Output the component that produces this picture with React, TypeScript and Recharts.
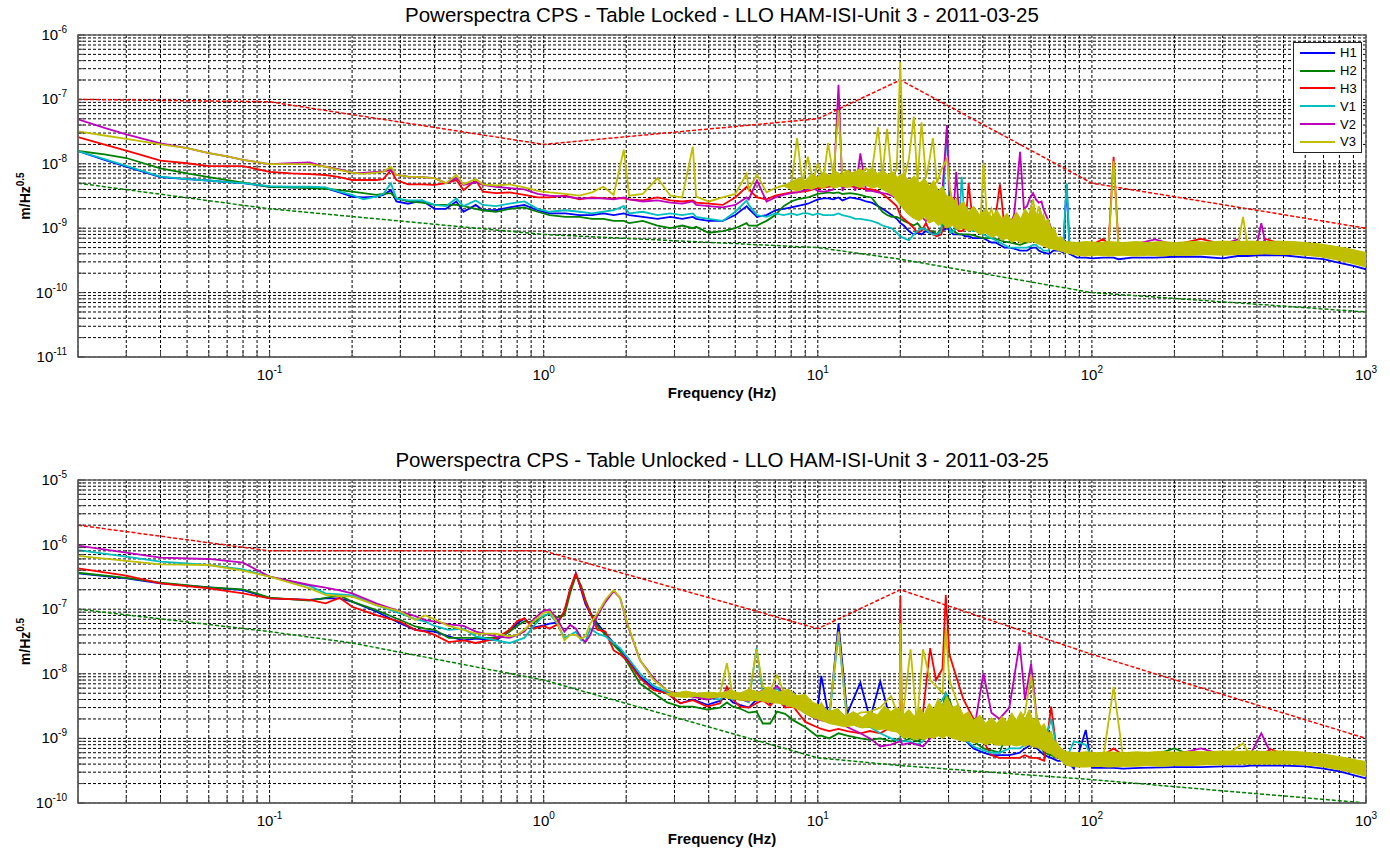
import React from 'react';
import { ComposedChart, Line, Area, XAxis, YAxis, CartesianGrid, Legend, ReferenceArea } from 'recharts';

const FONT = '"Liberation Sans", Arial, Helvetica, sans-serif';
// all spectrum values below are in units of 1e-9 m/Hz^0.5
const NANO = 1e-9;

const SERIES = [
  { key: 'H1', color: '#0000ff' },
  { key: 'H2', color: '#008000' },
  { key: 'H3', color: '#ff0000' },
  { key: 'V1', color: '#00bfbf' },
  { key: 'V2', color: '#bf00bf' },
  { key: 'V3', color: '#bfbf00' },
];

// ---------- Table Locked ----------
const TOP_F = [
  0.02, 0.025, 0.03, 0.04, 0.05, 0.06, 0.07, 0.08, 0.1, 0.12, 0.14, 0.16, 0.18, 0.2, 0.22, 0.245, 0.26, 0.277, 0.29, 0.32,
  0.36, 0.4, 0.44, 0.48, 0.51, 0.565, 0.6, 0.67, 0.75, 0.85, 0.95,
  1.05, 1.2, 1.35, 1.5, 1.65, 1.8, 1.96, 2.05, 2.3, 2.6, 2.9, 3.2, 3.5, 3.6, 4.0, 4.5, 5.0, 5.5, 5.6, 6.0,
  6.5, 7.0, 7.5, 8.0, 8.4, 8.8, 9.2, 9.6, 10, 10.5, 10.9, 11.4, 11.9, 12.3, 13.1, 13.7, 14.3, 15.0, 15.7, 16.6,
  17.2, 17.9, 18.6, 19.4, 20.0, 20.6, 21.5, 22.4, 23.1, 23.9, 24.8, 25.6, 26.3, 27.2, 28.2, 29.6, 30.4, 31.2, 32, 32.8,
  33.5, 34.5, 35.5, 36.8, 38, 39.2, 40.2, 41.5, 43, 44.5, 46.2, 48, 50, 52, 54.7, 56.5, 58, 59.5, 61, 62.5,
  64, 65.5, 66.5, 68, 69.5, 71, 72.3, 74, 76, 78.5, 80.9, 83,
  88, 95, 100, 110, 115, 120, 125, 140, 170, 200, 250, 300, 340, 356, 370, 400, 415, 430, 500, 600, 700, 800, 900, 1000,
];

const TOP_H1 = [
  15.8, 11.5, 9.0, 6.2, 5.8, 5.5, 5.2, 5.0, 4.4, 4.3, 4.3, 4.2, 3.6, 3.1, 3.0, 3.1, 3.3, 3.9, 2.6, 2.4,
  2.7, 2.0, 2.0, 2.6, 1.8, 2.3, 1.9, 1.9, 2.1, 2.3, 1.9,
  1.7, 1.7, 1.6, 1.6, 1.7, 1.6, 1.7, 1.6, 1.5, 1.4, 1.5, 1.4, 1.5, 1.4, 1.3, 1.3, 1.6, 2.2, 2.0, 1.5,
  1.6, 1.9, 2.0, 2.1, 2.2, 2.3, 2.4, 2.6, 2.8, 2.9, 2.9, 2.8, 3.0, 2.7, 3.0, 2.9, 2.8, 2.6, 2.5, 2.2,
  2.0, 1.8, 1.6, 1.4, 1.2, 1.1, 0.9, 0.8, 0.85, 0.8, 0.9, 0.85, 0.85, 0.8, 0.9, 1.0, 0.9, 0.8, 0.8, 0.8,
  0.8, 0.75, 0.75, 0.7, 0.7, 0.7, 0.7, 0.65, 0.6, 0.6, 0.55, 0.5, 0.5, 0.48, 0.45, 0.45, 0.45, 0.48, 0.5, 0.5,
  0.45, 0.43, 0.42, 0.41, 0.4, 0.42, 0.45, 0.45, 0.45, 0.42, 4.8, 0.4,
  0.35, 0.35, 0.34, 0.35, 0.35, 0.35, 0.33, 0.35, 0.35, 0.36, 0.36, 0.34, 0.37, 0.37, 0.37, 0.38, 0.38, 0.38, 0.38, 0.35, 0.33, 0.29, 0.26, 0.23,
];
const TOP_H2 = [
  15.8, 14, 12.3, 8.5, 7.1, 6.2, 5.6, 5.1, 4.4, 4.3, 4.2, 4.1, 3.9, 3.7, 3.5, 3.3, 3.4, 3.5, 2.9, 2.6,
  2.5, 2.3, 2.3, 2.3, 2.2, 2.0, 1.9, 1.8, 2.0, 2.1, 1.8,
  1.6, 1.5, 1.5, 1.4, 1.4, 1.3, 1.3, 1.2, 1.3, 1.1, 1.0, 1.1, 1.0, 1.05, 0.85, 0.9, 1.0, 1.2, 1.1, 1.1,
  1.3, 1.6, 2.2, 2.6, 2.8, 2.9, 3.0, 3.2, 3.4, 3.5, 3.6, 3.5, 3.6, 3.4, 3.5, 3.4, 3.3, 3.1, 3.0, 2.2,
  1.8, 1.6, 1.5, 1.5, 1.4, 1.3, 1.2, 1.1, 1.2, 1.0, 0.95, 0.9, 0.9, 0.8, 1.0, 1.5, 1.0, 0.9, 0.85, 0.8,
  0.8, 0.8, 0.8, 0.78, 0.75, 0.72, 0.7, 0.7, 0.7, 0.68, 0.65, 0.62, 0.6, 0.58, 0.55, 0.58, 0.6, 0.65, 0.7, 1.6,
  0.8, 0.7, 0.6, 0.55, 0.5, 0.52, 0.55, 0.5, 0.48, 0.48, 0.5, 0.45,
  0.45, 0.45, 0.45, 0.45, 0.45, 0.45, 0.45, 0.45, 0.45, 0.45, 0.47, 0.48, 0.48, 0.48, 0.48, 0.5, 0.5, 0.5, 0.5, 0.48, 0.45, 0.41, 0.37, 0.33,
];
const TOP_H3 = [
  26, 19.8, 16, 11.2, 10.2, 9.2, 9.2, 9.2, 7.5, 7.1, 6.9, 6.7, 6.2, 5.6, 5.6, 5.6, 5.8, 8.0, 5.6, 4.8,
  4.8, 4.7, 5.0, 5.6, 3.9, 5.6, 3.7, 3.5, 3.6, 3.3, 3.0,
  3.0, 3.2, 2.8, 3.0, 2.9, 2.9, 2.9, 2.8, 2.7, 3.0, 2.7, 2.6, 2.7, 2.5, 2.4, 2.3, 3.0, 4.4, 4.0, 3.0,
  2.8, 3.2, 3.4, 3.6, 3.6, 3.7, 3.8, 4.0, 4.2, 4.3, 4.4, 4.5, 4.8, 4.4, 4.5, 4.3, 4.2, 4.1, 4.0, 3.8,
  3.4, 3.0, 2.6, 2.2, 1.6, 1.4, 1.2, 1.0, 0.85, 0.9, 1.2, 0.9, 0.8, 0.75, 0.8, 1.5, 1.3, 1.2, 1.0, 0.9,
  0.9, 1.0, 5.0, 1.2, 1.1, 1.0, 1.0, 0.95, 0.9, 1.5, 4.8, 1.0, 1.3, 0.9, 0.9, 0.95, 1.0, 1.1, 1.2, 1.0,
  0.9, 0.7, 0.6, 0.55, 0.5, 0.52, 0.55, 0.55, 0.5, 0.6, 0.5, 0.5,
  0.55, 0.55, 0.55, 0.68, 0.55, 12.9, 0.55, 0.55, 0.55, 0.55, 0.68, 0.56, 0.56, 0.56, 0.56, 0.56, 0.56, 0.68, 0.56, 0.55, 0.52, 0.48, 0.43, 0.39,
];
const TOP_V1 = [
  15.8, 11.8, 9.3, 6.3, 5.8, 5.5, 5.2, 5.0, 4.5, 4.4, 4.4, 4.3, 3.7, 3.3, 2.8, 3.1, 3.4, 5.0, 2.9, 2.7,
  2.7, 2.3, 2.2, 2.9, 2.2, 2.7, 2.3, 2.2, 2.4, 2.6, 2.0,
  1.8, 1.9, 1.8, 1.7, 1.8, 1.9, 2.2, 1.7, 1.8, 1.6, 1.7, 1.6, 1.7, 1.5, 1.4, 1.3, 1.8, 2.7, 2.3, 1.6,
  1.5, 1.7, 1.6, 1.7, 1.6, 1.7, 1.7, 1.6, 1.7, 1.6, 1.6, 1.6, 1.7, 1.6, 1.5, 1.4, 1.4, 1.35, 1.3, 1.2,
  1.1, 1.05, 1.0, 0.85, 0.75, 0.7, 0.65, 0.8, 0.9, 1.0, 0.95, 0.85, 0.8, 0.8, 0.9, 38, 0.85, 0.9, 1.0, 1.2,
  6.3, 1.0, 1.0, 0.9, 0.9, 0.85, 0.8, 0.75, 0.7, 0.65, 0.6, 0.55, 0.5, 0.5, 0.5, 0.5, 0.5, 0.52, 0.55, 0.55,
  0.5, 0.48, 0.45, 0.45, 0.45, 0.55, 0.6, 0.55, 0.5, 0.5, 5.0, 0.45,
  0.5, 0.5, 0.5, 0.5, 0.5, 0.5, 0.5, 0.5, 0.5, 0.5, 0.5, 0.52, 0.52, 0.52, 0.52, 0.52, 0.52, 0.52, 0.52, 0.5, 0.46, 0.42, 0.38, 0.34,
];
const TOP_V2 = [
  49, 36, 28.7, 20.8, 17.5, 14.6, 13, 11.5, 9.9, 10.2, 10.5, 9.0, 8.2, 7.3, 7.2, 7.5, 7.6, 8.0, 6.7, 6.3,
  6.2, 6.0, 5.0, 6.0, 4.7, 5.2, 4.7, 4.4, 4.2, 4.0, 3.4,
  3.2, 3.1, 2.9, 2.9, 2.9, 2.8, 3.0, 2.8, 2.6, 2.7, 2.5, 2.4, 2.6, 2.3, 2.2, 2.1, 2.3, 3.0, 2.8, 5.5,
  2.6, 3.0, 3.3, 3.5, 3.6, 3.8, 4.0, 4.2, 3.8, 3.7, 3.8, 4.0, 168, 3.8, 7.5, 3.8, 14.5, 3.8, 3.8, 3.6,
  3.5, 3.4, 3.2, 3.0, 3.0, 2.6, 2.0, 1.6, 1.4, 1.5, 1.3, 1.4, 1.4, 1.6, 2.0, 40, 1.8, 1.6, 7.5, 1.5,
  1.4, 1.3, 1.2, 1.2, 1.1, 1.0, 1.0, 1.0, 1.0, 0.95, 0.9, 1.0, 1.1, 1.6, 15.4, 2.0, 2.2, 3.0, 3.5, 2.8,
  2.5, 2.6, 2.0, 1.6, 1.3, 1.0, 0.8, 0.6, 0.5, 0.5, 0.5, 0.45,
  0.55, 0.55, 0.55, 0.55, 0.55, 0.55, 0.55, 0.55, 0.67, 0.55, 0.56, 0.56, 0.67, 0.56, 0.56, 0.56, 1.2, 0.56, 0.56, 0.55, 0.52, 0.48, 0.43, 0.39,
];
const TOP_V3 = [
  32, 27.5, 24.3, 20, 17.5, 14.6, 13, 11.5, 9.9, 9.9, 9.9, 9.0, 8.0, 7.3, 7.0, 7.3, 7.5, 9.0, 6.7, 6.3,
  6.2, 6.0, 5.0, 6.7, 4.8, 5.8, 4.8, 4.6, 4.8, 4.3, 3.8,
  3.6, 3.4, 3.2, 3.6, 4.4, 3.3, 16.6, 3.2, 3.4, 6.0, 3.2, 3.0, 18.5, 3.1, 2.6, 3.0, 3.4, 7.0, 4.0, 6.8,
  3.6, 4.2, 4.6, 4.6, 25, 5.0, 12.9, 5.5, 10, 6.0, 21, 6.5, 68, 6.2, 6.8, 7.5, 7.0, 8.5, 7.1, 37,
  6.5, 35, 6.2, 8, 380, 5.5, 12, 54, 5, 44, 6, 12, 25, 5, 8, 12, 4, 2.2, 2.8, 1.6,
  2.0, 1.4, 1.6, 1.2, 1.5, 1.2, 10.2, 1.3, 2.0, 1.1, 1.4, 0.9, 1.3, 0.9, 1.0, 1.6, 1.1, 1.8, 2.8, 1.4,
  2.2, 1.3, 1.6, 1.1, 1.3, 0.9, 1.0, 0.65, 0.6, 0.55, 0.6, 0.5,
  0.5, 0.5, 0.5, 0.5, 0.5, 11, 0.5, 0.5, 0.5, 0.5, 0.5, 0.52, 0.52, 1.5, 0.52, 0.52, 0.52, 0.52, 0.52, 0.5, 0.47, 0.42, 0.38, 0.33,
];
// V3 dense-noise envelope (min / max) where the trace fills a band
const TOP_BAND_F = [
  7.5, 8.0, 8.5, 9.0, 9.5, 10, 10.5, 11, 11.5, 12.2, 12.8, 13.5, 14.2, 15, 15.8, 16.5, 17.2, 18, 18.8, 19.5,
  20.5, 21.5, 22.5, 23.5, 24.5, 25.5, 26.5, 27.5, 28.5, 29.5, 31, 32.5, 34, 35.5, 37, 39, 41, 43, 45, 47,
  49, 51, 53, 55, 57, 59, 61, 63, 65, 67, 69, 71, 73, 75, 77, 80,
  88, 95, 105, 115, 130, 145, 160, 180, 200, 230, 260, 300, 340, 380, 430, 480, 540, 600, 680, 760, 850, 930, 1000,
];
const TOP_BAND_LO = [
  4.5, 4.0, 3.8, 4.2, 4.0, 4.4, 4.2, 4.6, 4.2, 4.5, 4.3, 4.6, 4.3, 4.6, 4.2, 4.4, 4.0, 3.6, 3.2, 2.6,
  2.0, 1.6, 1.4, 1.3, 1.5, 1.2, 1.3, 1.1, 1.2, 1.0, 1.1, 0.95, 1.0, 0.9, 0.95, 0.8, 0.85, 0.72, 0.78, 0.65,
  0.7, 0.6, 0.65, 0.58, 0.62, 0.6, 0.62, 0.58, 0.55, 0.52, 0.5, 0.48, 0.47, 0.45, 0.44, 0.42,
  0.38, 0.37, 0.38, 0.37, 0.38, 0.37, 0.38, 0.37, 0.38, 0.38, 0.39, 0.38, 0.39, 0.39, 0.4, 0.39, 0.39, 0.38, 0.36, 0.33, 0.3, 0.27, 0.25,
];
const TOP_BAND_HI = [
  4.6, 5.2, 6.0, 5.5, 7.0, 6.2, 7.5, 6.5, 7.8, 6.8, 8.0, 7.0, 8.5, 7.2, 8.8, 7.0, 8.0, 6.8, 7.5, 6.2,
  7.0, 5.5, 6.5, 5.0, 6.0, 4.5, 5.5, 3.8, 4.5, 3.2, 3.0, 2.2, 2.6, 1.8, 2.2, 1.6, 2.0, 1.5, 1.9, 1.4,
  1.7, 1.3, 1.8, 1.4, 2.0, 1.6, 2.2, 1.5, 1.9, 1.2, 1.4, 0.9, 1.0, 0.7, 0.75, 0.62,
  0.6, 0.62, 0.6, 0.62, 0.6, 0.62, 0.6, 0.62, 0.6, 0.62, 0.61, 0.63, 0.62, 0.63, 0.62, 0.63, 0.62, 0.6, 0.57, 0.53, 0.49, 0.45, 0.42,
];
// requirement curves (dashed)
const TOP_RED_F = [0.02, 0.1, 1, 10, 20, 100, 1000];
const TOP_RED = [100, 92, 20, 50, 200, 5, 1];
const TOP_GREEN_F = [0.02, 0.1, 1, 10, 20, 100, 1000];
const TOP_GREEN = [5, 2, 0.8, 0.5, 0.33, 0.1, 0.05];

// ---------- Table Unlocked ----------
const BOT_F = [
  0.02, 0.03, 0.04, 0.06, 0.08, 0.1, 0.14, 0.16, 0.18, 0.2, 0.245, 0.3, 0.34, 0.37, 0.4, 0.45, 0.51, 0.565, 0.67,
  0.75, 0.8, 0.85, 0.92, 1.0, 1.05, 1.12, 1.19, 1.25, 1.31, 1.37, 1.42, 1.48, 1.57, 1.68, 1.8, 1.9, 2.02, 2.25, 2.52,
  2.82, 3.15, 3.5, 3.95, 4.4, 4.66, 4.9, 5.2, 5.6, 5.98, 6.3, 6.7, 7.1, 7.6, 8.15, 9.0, 9.9, 10.3, 11, 11.9,
  12.8, 14.3, 15.5, 16.9, 18.5, 19.9, 20.0, 20.3, 21.8, 23, 24.2, 25.7, 27, 28.5, 29.3, 30.2, 32, 34, 37, 40.2,
  43, 46, 50, 54.5, 57, 60, 63, 67, 71, 75, 80.9,
  86, 95, 100, 110, 120, 130, 150, 200, 250, 300, 356, 380, 415, 450, 500, 600, 700, 800, 900, 1000,
];

const BOT_H1 = [
  359, 300, 251, 218, 198, 147, 139, 147, 147, 131, 92, 60, 48, 46, 45, 38, 33, 35, 33,
  45, 60, 72, 52, 56, 60, 62, 90, 200, 359, 200, 120, 86, 60, 42, 30, 24, 17, 9, 6,
  5, 3.5, 4.0, 3.3, 3.8, 4.5, 3.6, 3.3, 3.0, 4.0, 4.5, 3.5, 5.0, 3.2, 5.2, 2.5, 2.0, 9.3, 2.0, 60,
  2.4, 7.3, 2.0, 7.6, 1.8, 1.5, 1.4, 1.2, 1.1, 1.0, 1.0, 1.1, 1.5, 2.5, 4.0, 3.0, 1.5, 1.0, 0.7, 0.6,
  0.55, 0.55, 0.55, 0.6, 0.7, 0.8, 0.7, 0.55, 0.5, 0.45, 0.45,
  0.34, 1.35, 0.35, 0.35, 0.35, 0.34, 0.35, 0.36, 0.36, 0.37, 0.37, 0.38, 0.38, 0.38, 0.38, 0.37, 0.34, 0.31, 0.27, 0.24,
];
const BOT_H2 = [
  367, 305, 258, 218, 203, 151, 136, 150, 164, 131, 97, 68, 54, 50, 48, 36, 36, 36, 36,
  45, 55, 65, 62, 78, 86, 75, 80, 180, 330, 230, 140, 90, 55, 40, 28, 22, 15, 7, 5,
  3.6, 3.1, 3.1, 2.8, 3.0, 3.6, 3.1, 2.9, 2.5, 2.6, 1.7, 1.7, 2.6, 2.4, 1.9, 1.5, 1.1, 1.1, 1.0, 1.2,
  1.1, 1.0, 0.95, 1.0, 0.9, 1.0, 1.0, 0.9, 1.0, 0.9, 1.0, 1.3, 2.0, 3.0, 5.0, 4.0, 2.0, 1.2, 0.9, 0.7,
  0.65, 0.6, 1.5, 1.2, 2.0, 1.5, 0.9, 0.6, 0.55, 0.5, 0.45,
  0.45, 0.45, 0.45, 0.45, 0.45, 0.45, 0.48, 0.7, 0.48, 0.48, 0.5, 0.5, 0.5, 0.5, 0.5, 0.48, 0.45, 0.42, 0.38, 0.34,
];
const BOT_H3 = [
  429, 330, 251, 210, 176, 147, 139, 123, 150, 109, 81, 64, 48, 45, 40, 31, 33, 30, 35,
  48, 65, 72, 50, 55, 50, 58, 95, 210, 359, 210, 130, 86, 48, 45, 23, 20, 16, 8.5, 5.6,
  5, 3.5, 3.9, 3.1, 3.5, 6.3, 4.0, 3.1, 3.0, 3.5, 3.9, 3.2, 4.2, 3.0, 3.1, 1.8, 1.5, 1.4, 1.3, 1.4,
  1.3, 1.2, 1.3, 1.2, 1.5, 1.2, 160, 1.2, 1.6, 2.0, 2.5, 25, 8, 12, 166, 20, 9, 4, 2.0, 0.9,
  0.55, 0.5, 0.5, 0.5, 0.55, 0.5, 0.5, 0.45, 3.1, 0.5, 0.5,
  0.55, 0.55, 0.55, 0.55, 0.7, 0.55, 0.55, 0.55, 0.55, 0.55, 0.56, 0.56, 0.56, 0.68, 0.56, 0.55, 0.52, 0.48, 0.44, 0.4,
];
const BOT_V1 = [
  824, 650, 544, 483, 414, 319, 229, 176, 170, 164, 116, 86, 70, 64, 55, 48, 50, 38, 33,
  30, 33, 36, 55, 80, 85, 60, 36, 40, 45, 33, 32, 50, 42, 38, 30, 25, 18, 10, 6.5,
  5.2, 4.5, 4.5, 4.2, 4.0, 5.0, 4.0, 4.2, 3.6, 25, 5.0, 4.4, 6.0, 4.0, 3.6, 2.6, 2.0, 2.4, 2.0, 40,
  1.8, 1.5, 1.5, 1.2, 1.0, 0.9, 1.0, 0.9, 0.9, 0.8, 0.9, 1.5, 3.0, 4.0, 5.0, 3.0, 1.5, 1.0, 0.75, 0.65,
  0.6, 0.6, 0.7, 0.7, 0.8, 0.9, 0.9, 0.8, 2.0, 0.6, 0.5,
  0.9, 0.8, 0.5, 0.5, 0.5, 0.5, 0.5, 0.5, 0.5, 0.5, 0.52, 0.52, 0.52, 0.52, 0.52, 0.5, 0.48, 0.44, 0.4, 0.36,
];
const BOT_V2 = [
  962, 750, 628, 599, 525, 319, 237, 215, 195, 176, 123, 92, 78, 68, 64, 58, 55, 45, 38,
  36, 40, 45, 70, 95, 98, 70, 45, 57, 50, 36, 31, 40, 80, 130, 190, 150, 58, 16, 8.5,
  5.5, 4.8, 4.4, 4.0, 4.5, 5.5, 4.2, 4.0, 3.8, 5.0, 5.5, 5.0, 6.5, 4.5, 3.8, 2.5, 2.0, 1.9, 1.8, 1.9,
  1.5, 1.2, 1.0, 0.75, 0.8, 0.9, 1.0, 0.8, 0.85, 0.8, 0.75, 1.0, 1.5, 2.0, 3.0, 2.5, 1.5, 1.0, 1.2, 10.2,
  2.5, 2.0, 3.0, 30, 4.0, 14.5, 2.0, 1.0, 0.7, 0.6, 0.5,
  0.55, 0.6, 0.55, 0.55, 0.55, 0.55, 0.56, 0.56, 0.7, 0.56, 0.58, 0.58, 1.2, 0.58, 0.58, 0.56, 0.53, 0.49, 0.45, 0.41,
];
const BOT_V3 = [
  667, 560, 495, 483, 395, 319, 210, 166, 160, 156, 116, 92, 68, 80, 70, 55, 48, 42, 42,
  38, 40, 48, 65, 88, 92, 62, 33, 40, 40, 35, 38, 60, 86, 140, 198, 150, 60, 16, 8,
  5.5, 4.6, 5.0, 4.4, 5.0, 14.6, 4.5, 3.9, 4.2, 24, 6.3, 5.5, 9.5, 4.7, 4.0, 3.0, 2.2, 3.5, 2.3, 45,
  1.9, 2.5, 2.6, 3.0, 4.5, 2.0, 60, 1.8, 24, 1.7, 24, 8, 6.5, 5, 50, 8, 4, 2.0, 1.5, 1.2,
  1.6, 1.3, 1.6, 1.8, 2.5, 9.5, 2.0, 1.1, 0.8, 0.7, 0.5,
  0.5, 0.5, 0.5, 0.5, 6.3, 0.5, 0.5, 0.5, 0.5, 0.5, 0.84, 0.52, 0.52, 0.52, 0.52, 0.5, 0.47, 0.43, 0.39, 0.35,
];
const BOT_BAND_F = [
  2.8, 3.0, 3.3, 3.6, 4.0, 4.4, 4.8, 5.2, 5.6, 6.1, 6.6, 7.2, 7.8, 8.4, 9.0, 9.6, 10.3, 11, 11.8, 12.6,
  13.5, 14.5, 15.5, 16.5, 17.5, 18.5, 19.5, 20.5, 21.5, 22.5, 23.5, 24.5, 25.5, 26.5, 27.5, 28.5, 29.5, 31, 32.5, 34,
  35.5, 37, 39, 41, 43, 45, 47, 49, 51, 53, 55, 57, 59, 61, 63, 65, 67, 69, 71, 73, 75, 77, 80.9,
  88, 95, 105, 115, 130, 145, 160, 180, 200, 230, 260, 300, 340, 380, 430, 480, 540, 600, 680, 760, 850, 930, 1000,
];
const BOT_BAND_LO = [
  4.8, 4.4, 4.3, 4.5, 4.2, 4.4, 4.1, 4.0, 3.8, 3.9, 3.6, 3.5, 3.2, 2.9, 2.4, 2.1, 1.9, 1.7, 1.6, 1.5,
  1.6, 1.45, 1.5, 1.35, 1.4, 1.3, 1.25, 1.0, 1.05, 0.95, 1.0, 0.95, 1.05, 1.0, 1.1, 1.0, 1.1, 1.0, 0.95, 0.9,
  0.92, 0.85, 0.88, 0.8, 0.85, 0.78, 0.8, 0.78, 0.8, 0.76, 0.8, 0.75, 0.8, 0.74, 0.72, 0.68, 0.65, 0.6, 0.58, 0.52, 0.5, 0.45, 0.38,
  0.36, 0.36, 0.37, 0.36, 0.37, 0.37, 0.38, 0.37, 0.38, 0.38, 0.39, 0.39, 0.4, 0.4, 0.4, 0.4, 0.4, 0.39, 0.37, 0.34, 0.31, 0.28, 0.26,
];
const BOT_BAND_HI = [
  4.9, 5.0, 5.4, 5.0, 5.2, 5.0, 5.6, 5.0, 5.8, 5.2, 6.3, 5.2, 5.8, 4.6, 4.8, 3.6, 3.2, 2.6, 2.9, 2.2,
  2.6, 2.1, 2.6, 2.3, 3.2, 2.6, 3.0, 2.3, 2.8, 2.2, 3.0, 2.4, 3.5, 2.8, 4.2, 3.2, 4.5, 3.0, 3.3, 2.3,
  2.6, 1.9, 2.3, 1.7, 2.1, 1.7, 2.2, 1.8, 2.5, 1.9, 2.6, 2.0, 2.8, 1.9, 2.2, 1.5, 1.7, 1.2, 1.3, 0.9, 0.85, 0.7, 0.62,
  0.6, 0.62, 0.6, 0.62, 0.6, 0.62, 0.61, 0.63, 0.61, 0.63, 0.62, 0.64, 0.63, 0.64, 0.63, 0.64, 0.63, 0.61, 0.58, 0.54, 0.5, 0.46, 0.44,
];
const BOT_RED_F = [0.02, 0.1, 1, 10, 20, 100, 1000];
const BOT_RED = [2000, 800, 800, 50, 200, 20, 1];
const BOT_GREEN_F = [0.02, 0.1, 0.2, 1, 10, 20, 100, 1000];
const BOT_GREEN = [100, 45, 30, 8, 0.5, 0.38, 0.23, 0.1];

// ---------- helpers ----------
function buildRows(freqs: number[], values: Record<string, number[]>) {
  return freqs.map((f, i) => {
    const row: any = { f };
    SERIES.forEach((s) => {
      row[s.key] = values[s.key][i] * NANO;
    });
    return row;
  });
}

function limitRows(freqs: number[], vals: number[]) {
  return freqs.map((f, i) => ({ f, lim: vals[i] * NANO }));
}

function bandRows(freqs: number[], lo: number[], hi: number[]) {
  return freqs.map((f, i) => ({ f, band: [lo[i] * NANO, hi[i] * NANO] }));
}

function decadeGrid(from: number, to: number) {
  const out: number[] = [];
  for (let e = from; e < to; e++) {
    for (let k = 1; k <= 9; k++) out.push(k * Math.pow(10, e));
  }
  out.push(Math.pow(10, to));
  return out;
}

const X_GRID = decadeGrid(-2, 3).filter((v) => v >= 0.02 - 1e-12);
const isDecade = (v: number) => Math.abs(Math.log10(v) - Math.round(Math.log10(v))) < 1e-6;

const XTick = (p: any) => {
  const v = p.payload.value;
  if (!isDecade(v) || v < 0.05) return <g />;
  return (
    <text x={p.x} y={p.y} dy={15} textAnchor="middle" fontFamily={FONT} fontSize={15} fill="#000">
      10<tspan dy={-7} fontSize={10}>{Math.round(Math.log10(v))}</tspan>
    </text>
  );
};

const YTick = (p: any) => {
  const v = p.payload.value;
  if (!isDecade(v)) return <g />;
  return (
    <text x={p.x} y={p.y} dy={5} textAnchor="end" fontFamily={FONT} fontSize={15} fill="#000">
      10<tspan dy={-7} fontSize={10}>{Math.round(Math.log10(v))}</tspan>
    </text>
  );
};

const XLabel = (p: any) => {
  const vb = p.viewBox;
  return (
    <text x={vb.x + vb.width / 2} y={vb.y + 41} textAnchor="middle" fontFamily={FONT} fontSize={15} fontWeight="bold" fill="#000">
      Frequency (Hz)
    </text>
  );
};

const YLabel = (p: any) => {
  const vb = p.viewBox;
  const cx = vb.x + 22;
  const cy = vb.y + vb.height / 2;
  return (
    <text x={cx} y={cy} transform={`rotate(-90, ${cx}, ${cy})`} textAnchor="middle" fontFamily={FONT} fontSize={14} fontWeight="bold" fill="#000">
      m/Hz<tspan dy={-6} fontSize={10}>0.5</tspan>
    </text>
  );
};

const LegendBox = () => (
  <div
    style={{
      width: 69,
      height: 111,
      border: '1px solid #222',
      background: '#fff',
      boxSizing: 'border-box',
      padding: '1px 0 0 6px',
      fontFamily: FONT,
      fontSize: 13,
      color: '#000',
    }}
  >
    {SERIES.map((s) => (
      <div key={s.key} style={{ display: 'flex', alignItems: 'center', height: 17.8 }}>
        <span style={{ display: 'inline-block', width: 35, height: 2, background: s.color }} />
        <span style={{ marginLeft: 5 }}>{s.key}</span>
      </div>
    ))}
  </div>
);

interface PanelProps {
  title: string;
  top: number;
  height: number;
  titleTop: number;
  margin: { top: number; right: number; bottom: number; left: number };
  yDomain: [number, number];
  rows: any[];
  band: any[];
  red: any[];
  green: any[];
  legend?: boolean;
}

function Panel({ title, top, height, titleTop, margin, yDomain, rows, band, red, green, legend }: PanelProps) {
  const yGrid = decadeGrid(Math.round(Math.log10(yDomain[0])), Math.round(Math.log10(yDomain[1])));
  const lineProps = { dot: false, activeDot: false, isAnimationActive: false, type: 'linear' as const };
  return (
    <div style={{ position: 'absolute', left: 0, top, width: 1390, height }}>
      <div
        style={{
          position: 'absolute',
          left: 78,
          width: 1288,
          top: titleTop,
          textAlign: 'center',
          fontFamily: FONT,
          fontSize: 20.5,
          lineHeight: '22px',
          color: '#000',
        }}
      >
        {title}
      </div>
      <ComposedChart width={1390} height={height} data={rows} margin={margin}>
        <CartesianGrid horizontalValues={yGrid} verticalValues={X_GRID} stroke="#000" strokeDasharray="3 2" />
        <XAxis
          dataKey="f"
          type="number"
          scale="log"
          domain={[0.02, 1000]}
          allowDataOverflow
          ticks={X_GRID}
          interval={0}
          tick={XTick}
          tickSize={-6}
          tickMargin={14}
          height={40}
          axisLine={{ stroke: '#666', strokeWidth: 1.5 }}
          tickLine={{ stroke: '#444' }}
          label={XLabel}
        />
        <YAxis
          type="number"
          scale="log"
          domain={yDomain}
          allowDataOverflow
          ticks={yGrid}
          interval={0}
          tick={YTick}
          tickSize={-6}
          tickMargin={17}
          width={70}
          axisLine={{ stroke: '#666', strokeWidth: 1.5 }}
          tickLine={{ stroke: '#444' }}
          label={YLabel}
        />
        <ReferenceArea x1={0.02} x2={1000} y1={yDomain[0]} y2={yDomain[1]} fill="none" stroke="#666" strokeWidth={1.5} />
        <Line {...lineProps} data={red} dataKey="lim" stroke="#ff0000" strokeWidth={1.5} strokeDasharray="4 2" />
        <Line {...lineProps} data={green} dataKey="lim" stroke="#008000" strokeWidth={1.5} strokeDasharray="4 2" />
        {SERIES.slice(0, 5).map((s) => (
          <Line key={s.key} {...lineProps} dataKey={s.key} stroke={s.color} strokeWidth={1.8} />
        ))}
        <Area
          data={band}
          dataKey="band"
          type="linear"
          stroke="#bfbf00"
          strokeWidth={1}
          fill="#bfbf00"
          fillOpacity={1}
          isAnimationActive={false}
          dot={false}
          activeDot={false}
          {...({ zIndex: 450 } as any)}
        />
        <Line {...lineProps} dataKey="V3" stroke="#bfbf00" strokeWidth={1.8} />
        {legend && (
          <Legend
            layout="vertical"
            align="center"
            verticalAlign="middle"
            content={LegendBox}
            wrapperStyle={{ left: 1293, top: 42, width: 69, height: 111 }}
          />
        )}
      </ComposedChart>
    </div>
  );
}

export default function App() {
  const topRows = buildRows(TOP_F, { H1: TOP_H1, H2: TOP_H2, H3: TOP_H3, V1: TOP_V1, V2: TOP_V2, V3: TOP_V3 });
  const botRows = buildRows(BOT_F, { H1: BOT_H1, H2: BOT_H2, H3: BOT_H3, V1: BOT_V1, V2: BOT_V2, V3: BOT_V3 });
  return (
    <div style={{ position: 'absolute', left: 0, top: 0, width: 1390, height: 851, background: '#fff' }}>
      <Panel
        title="Powerspectra CPS - Table Locked - LLO HAM-ISI-Unit 3 - 2011-03-25"
        top={0}
        height={425}
        titleTop={4}
        margin={{ top: 35, right: 24, bottom: 28, left: 8 }}
        yDomain={[1e-11, 1e-6]}
        rows={topRows}
        band={bandRows(TOP_BAND_F, TOP_BAND_LO, TOP_BAND_HI)}
        red={limitRows(TOP_RED_F, TOP_RED)}
        green={limitRows(TOP_GREEN_F, TOP_GREEN)}
        legend
      />
      <Panel
        title="Powerspectra CPS - Table Unlocked - LLO HAM-ISI-Unit 3 - 2011-03-25"
        top={425}
        height={426}
        titleTop={24}
        margin={{ top: 55, right: 24, bottom: 8, left: 8 }}
        yDomain={[1e-10, 1e-5]}
        rows={botRows}
        band={bandRows(BOT_BAND_F, BOT_BAND_LO, BOT_BAND_HI)}
        red={limitRows(BOT_RED_F, BOT_RED)}
        green={limitRows(BOT_GREEN_F, BOT_GREEN)}
      />
    </div>
  );
}
